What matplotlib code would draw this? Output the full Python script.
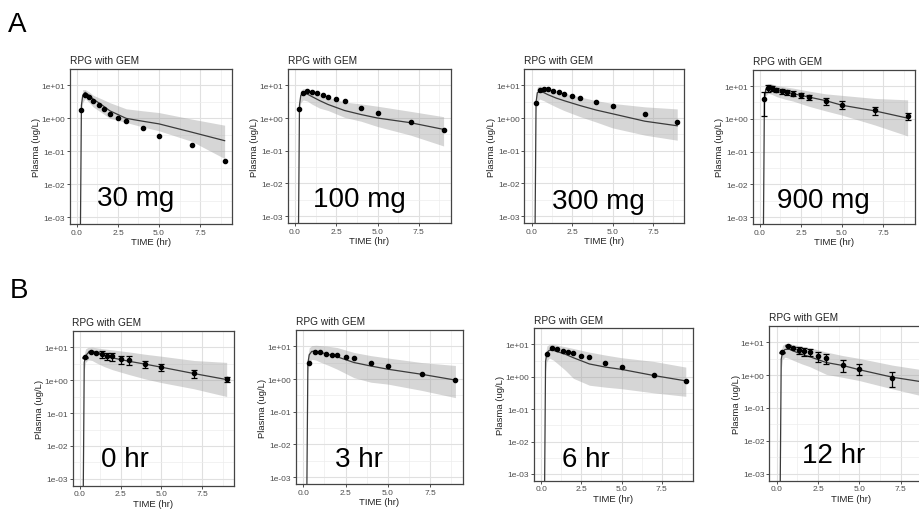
import matplotlib
matplotlib.use("Agg")
import matplotlib.pyplot as plt
from matplotlib.ticker import FixedLocator, NullFormatter

plt.rcParams['font.family'] = ['Liberation Sans', 'DejaVu Sans']

# ---------------- data ----------------
PANEL_TITLE = "RPG with GEM"
X_LABEL = "TIME (hr)"
Y_LABEL = "Plasma (ug/L)"
X_TICKS = [0.0, 2.5, 5.0, 7.5]
X_TICK_LABELS = ["0.0", "2.5", "5.0", "7.5"]
Y_TICKS = [1e-3, 1e-2, 1e-1, 1e0, 1e1]
Y_TICK_LABELS = ["1e-03", "1e-02", "1e-01", "1e+00", "1e+01"]

PANEL_LABELS = ["30 mg", "100 mg", "300 mg", "900 mg", "0 hr", "3 hr", "6 hr", "12 hr"]
ROW_LABELS = ["A", "B"]

# observed sampling times
T_OBS_A = [0.25, 0.5, 0.75, 1.0, 1.33, 1.67, 2.0, 2.5, 3.0, 4.0, 5.0, 7.0, 9.0]
T_OBS_B = [0.33, 0.67, 1.0, 1.33, 1.67, 2.0, 2.5, 3.0, 4.0, 5.0, 7.0, 9.0]

# observed concentrations (ug/L)
OBS_30MG = [1.82, 5.3, 4.6, 3.27, 2.47, 1.87, 1.38, 1.02, 0.81, 0.51, 0.29, 0.157, 0.049]
OBS_100MG = [1.94, 5.8, 6.7, 6.3, 5.8, 5.0, 4.4, 3.7, 3.3, 2.1, 1.47, 0.76, 0.42]
OBS_300MG = [2.97, 7.4, 7.9, 7.6, 6.7, 6.3, 5.6, 4.7, 4.2, 3.1, 2.3, 1.29, 0.78]
OBS_900MG = [3.9, 8.7, 8.8, 7.7, 7.1, 6.5, 5.9, 5.3, 4.6, 3.5, 2.7, 1.8, 1.25]
SD_900MG = [2.7, 2.0, 1.5, 1.3, 1.2, 1.1, 1.0, 0.9, 0.8, 0.8, 0.7, 0.45, 0.3]
OBS_0HR = [5.0, 7.4, 7.0, 6.3, 5.3, 5.3, 4.4, 4.2, 3.1, 2.5, 1.66, 1.09]
SD_0HR = [0.2, 0.3, 0.4, 1.4, 1.3, 1.4, 1.2, 1.2, 0.8, 0.6, 0.45, 0.2]
OBS_3HR = [3.07, 6.9, 6.9, 5.9, 5.5, 5.5, 4.7, 4.3, 3.1, 2.44, 1.4, 0.93]
OBS_6HR = [4.95, 7.9, 7.0, 6.3, 5.7, 5.3, 4.5, 4.0, 2.75, 2.07, 1.12, 0.72]
OBS_12HR = [4.97, 7.9, 6.7, 5.85, 5.3, 5.0, 3.67, 3.27, 2.05, 1.55, 0.83, 0.55]
SD_12HR = [0.2, 0.3, 0.5, 1.5, 1.4, 1.3, 1.2, 1.1, 0.8, 0.55, 0.4, 0.25]

# simulated median and prediction interval
T_SIM = [0.2, 0.27, 0.35, 0.5, 0.75, 1.0, 1.5, 2.0, 3.0, 4.0, 5.0, 7.0, 9.0]
SIM_30MG = [1e-4, 2.5, 5.0, 6.2, 5.0, 3.8, 2.6, 1.7, 1.0, 0.82, 0.68, 0.38, 0.21]
HI_30MG = [1e-4, 4.0, 7.5, 7.5, 6.3, 5.0, 3.9, 3.0, 1.95, 1.7, 1.5, 0.95, 0.62]
LO_30MG = [1e-4, 1.5, 3.0, 4.0, 3.0, 2.2, 1.5, 1.0, 0.75, 0.55, 0.42, 0.2, 0.06]
SIM_100MG = [1e-4, 2.5, 5.0, 5.6, 5.4, 4.6, 3.4, 2.6, 1.7, 1.28, 1.0, 0.72, 0.45]
HI_100MG = [1e-4, 4.0, 7.0, 8.0, 7.6, 6.6, 5.3, 4.3, 3.1, 2.7, 2.3, 1.6, 1.1]
LO_100MG = [1e-4, 1.5, 3.0, 3.6, 3.3, 2.7, 2.0, 1.7, 1.05, 0.8, 0.55, 0.3, 0.14]
SIM_300MG = [1e-4, 3.0, 6.0, 6.4, 6.0, 5.2, 4.1, 3.4, 2.4, 1.75, 1.35, 0.8, 0.58]
HI_300MG = [1e-4, 5.0, 9.0, 9.6, 9.2, 8.3, 6.8, 5.8, 4.4, 3.4, 2.8, 2.2, 1.9]
LO_300MG = [1e-4, 1.5, 3.2, 3.8, 3.4, 2.9, 2.2, 1.7, 1.1, 0.75, 0.5, 0.3, 0.21]
SIM_900MG = [1e-4, 4.0, 8.0, 9.0, 8.3, 7.5, 6.6, 5.9, 4.6, 3.6, 2.6, 1.75, 1.05]
HI_900MG = [1e-4, 6.0, 11.0, 12.0, 11.5, 10.5, 9.5, 8.7, 7.0, 5.8, 5.2, 4.2, 3.8]
LO_900MG = [1e-4, 2.5, 5.0, 6.0, 5.5, 4.8, 4.0, 3.5, 2.4, 1.75, 1.3, 0.65, 0.3]
SIM_0HR = [1e-4, 3.5, 5.5, 6.8, 7.2, 6.7, 5.6, 4.8, 3.8, 3.1, 2.5, 1.6, 1.05]
HI_0HR = [1e-4, 6.0, 9.0, 10.0, 10.2, 9.8, 9.0, 8.4, 7.3, 6.2, 5.4, 4.0, 3.5]
LO_0HR = [1e-4, 2.0, 3.5, 4.2, 4.0, 3.4, 2.6, 2.1, 1.5, 1.1, 0.85, 0.55, 0.32]
SIM_3HR = [1e-4, 3.0, 5.5, 7.0, 7.1, 6.6, 5.6, 4.8, 3.2, 2.5, 2.0, 1.4, 0.93]
HI_3HR = [1e-4, 5.0, 9.0, 10.5, 10.8, 10.5, 10.0, 9.2, 6.5, 5.2, 4.4, 3.2, 2.6]
LO_3HR = [1e-4, 1.5, 3.0, 4.0, 3.8, 3.3, 2.6, 2.0, 1.1, 0.8, 0.7, 0.45, 0.27]
SIM_6HR = [1e-4, 3.0, 5.5, 6.6, 6.6, 6.0, 5.0, 3.9, 2.5, 2.0, 1.7, 1.1, 0.75]
HI_6HR = [1e-4, 5.0, 9.0, 10.0, 10.2, 9.5, 8.5, 7.5, 5.8, 4.7, 3.9, 3.0, 2.0]
LO_6HR = [1e-4, 1.5, 3.0, 3.8, 3.3, 2.6, 1.6, 0.9, 0.55, 0.48, 0.43, 0.32, 0.25]
SIM_12HR = [1e-4, 3.0, 5.0, 6.0, 6.1, 5.4, 4.3, 3.6, 2.4, 1.95, 1.45, 0.86, 0.6]
HI_12HR = [1e-4, 5.0, 8.0, 9.0, 9.0, 8.5, 7.5, 6.8, 5.0, 3.9, 3.2, 2.0, 1.4]
LO_12HR = [1e-4, 1.5, 3.0, 3.5, 3.2, 2.8, 2.2, 1.8, 1.05, 0.85, 0.68, 0.38, 0.22]

# ---------------- layout (pixels) ----------------
W, H = 920, 510
# (left, top, right, bottom) of each plot panel
BOXES = [
    (69.6, 70, 232, 225), (287.6, 70, 451, 224), (524.4, 70, 684.5, 224), (752.6, 70.7, 915, 225),
    (72.5, 332, 234, 486.7), (295.7, 331, 463, 485), (534, 329.3, 693, 481.7), (769.3, 326.7, 933, 481.7),
]
# (x, baseline y) of big dose/time labels
LABEL_POS = [(97, 206), (313, 206.7), (551.7, 209), (776.7, 208),
             (100.7, 466.7), (335, 467), (561.7, 466.7), (801.7, 463)]
ROW_POS = [(8, 32), (10, 298)]

PANELS = [
    (T_OBS_A, OBS_30MG, None, SIM_30MG, LO_30MG, HI_30MG),
    (T_OBS_A, OBS_100MG, None, SIM_100MG, LO_100MG, HI_100MG),
    (T_OBS_A, OBS_300MG, None, SIM_300MG, LO_300MG, HI_300MG),
    (T_OBS_A, OBS_900MG, SD_900MG, SIM_900MG, LO_900MG, HI_900MG),
    (T_OBS_B, OBS_0HR, SD_0HR, SIM_0HR, LO_0HR, HI_0HR),
    (T_OBS_B, OBS_3HR, None, SIM_3HR, LO_3HR, HI_3HR),
    (T_OBS_B, OBS_6HR, None, SIM_6HR, LO_6HR, HI_6HR),
    (T_OBS_B, OBS_12HR, SD_12HR, SIM_12HR, LO_12HR, HI_12HR),
]

fig = plt.figure(figsize=(W / 100, H / 100), dpi=100)

for i, (box, (tobs, obs, sd, med, lo, hi)) in enumerate(zip(BOXES, PANELS)):
    l, t, r, b = box
    ax = fig.add_axes([l / W, 1 - b / H, (r - l) / W, (b - t) / H])
    ax.set_yscale('log')
    ax.set_xlim(-0.45, 9.45)
    ax.set_ylim(10 ** -3.21, 10 ** 1.5)
    ax.set_axisbelow(True)
    ax.set_xticks(X_TICKS)
    ax.set_xticklabels(X_TICK_LABELS)
    ax.xaxis.set_minor_locator(FixedLocator([1.25, 3.75, 6.25, 8.75]))
    ax.set_yticks(Y_TICKS)
    ax.set_yticklabels(Y_TICK_LABELS)
    ax.yaxis.set_minor_locator(FixedLocator([10 ** (k + 0.5) for k in range(-4, 2)]))
    ax.yaxis.set_minor_formatter(NullFormatter())
    ax.grid(which='major', color='#E0E0E0', lw=0.8)
    ax.grid(which='minor', color='#EDEDED', lw=0.5)
    ax.tick_params(which='major', length=2.2, width=0.6, color='#333333',
                   labelsize=6.0, labelcolor='#4D4D4D', pad=1.2)
    ax.tick_params(which='minor', length=0)
    for s in ax.spines.values():
        s.set_color('#444444')
        s.set_linewidth(0.9)

    ax.fill_between(T_SIM, lo, hi, color='#9E9E9E', alpha=0.42, lw=0, zorder=2)
    ax.plot(T_SIM, med, color='#3A3A3A', lw=0.9, zorder=3)
    if sd is None:
        ax.plot(tobs, obs, 'o', color='black', ms=3.0, zorder=4)
    else:
        ax.errorbar(tobs, obs, yerr=sd, fmt='o', color='black', ms=3.0,
                    elinewidth=0.9, capsize=2.0, capthick=0.9, zorder=4)

    ax.set_title(PANEL_TITLE, loc='left', fontsize=7.3, color='#222222', pad=4)
    ax.set_xlabel(X_LABEL, fontsize=6.8, color='#222222', labelpad=0.8)
    ax.set_ylabel(Y_LABEL, fontsize=6.8, color='#222222')
    ax.yaxis.set_label_coords(-28.5 / (r - l), 0.5)

    x0, y0 = LABEL_POS[i]
    fig.text(x0 / W, 1 - y0 / H, PANEL_LABELS[i], fontsize=20, color='black',
             ha='left', va='baseline')

for lab, (x0, y0) in zip(ROW_LABELS, ROW_POS):
    fig.text(x0 / W, 1 - y0 / H, lab, fontsize=20, color='black', ha='left', va='baseline')

fig.savefig('out.png', dpi=100)
